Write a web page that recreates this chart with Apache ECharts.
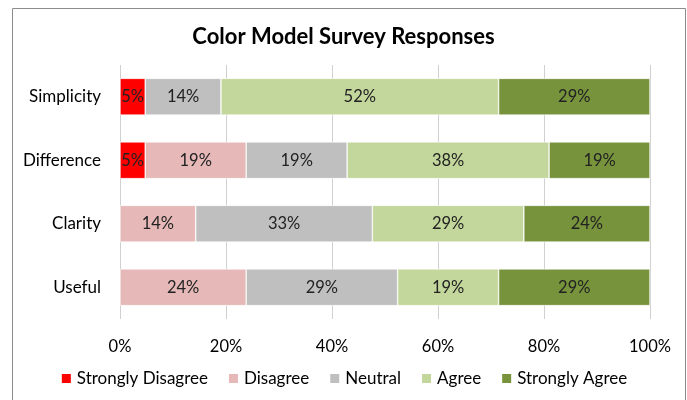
<!DOCTYPE html>
<html><head><meta charset="utf-8">
<script src="https://cdn.jsdelivr.net/npm/echarts@6/dist/echarts.min.js"></script>
<style>html,body{margin:0;padding:0;background:#fff}#c{width:687px;height:400px}</style>
</head><body><div id="c"></div>
<script>
const categories = ['Simplicity', 'Difference', 'Clarity', 'Useful'];
const seriesNames = ['Strongly Disagree', 'Disagree', 'Neutral', 'Agree', 'Strongly Agree'];
const stronglyDisagree = [4.76, 4.76, 0, 0];
const disagree = [0, 19.05, 14.29, 23.81];
const neutral = [14.29, 19.05, 33.33, 28.57];
const agree = [52.38, 38.10, 28.57, 19.05];
const stronglyAgree = [28.57, 19.05, 23.81, 28.57];
const xTicks = [0, 20, 40, 60, 80, 100];
const colors = ['#FF0000', '#E6B9B8', '#BFBFBF', '#C3D69B', '#77933C'];

const font = 'Lato, "Open Sans", sans-serif';
const values = [stronglyDisagree, disagree, neutral, agree, stronglyAgree];
const chart = echarts.init(document.getElementById('c'));
chart.setOption({
  animation: false,
  color: colors,
  title: {
    text: 'Color Model Survey Responses', left: 'center', top: 21,
    textStyle: { fontFamily: font, fontSize: 22, fontWeight: 'bold', color: '#000' }
  },
  graphic: [{ type: 'rect', shape: { x: 12.5, y: 8.5, width: 673, height: 400 },
    style: { fill: 'none', stroke: '#8c8c8c', lineWidth: 1 }, silent: true }],
  legend: {
    bottom: 8, left: 'center', itemWidth: 11, itemHeight: 11, itemGap: 19,
    icon: 'rect',
    textStyle: { fontFamily: font, fontSize: 17, color: '#000' },
    data: seriesNames
  },
  grid: { left: 120, right: 37, top: 65, bottom: 81 },
  xAxis: {
    type: 'value', min: 0, max: 100, interval: 20,
    axisLabel: { formatter: v => v + '%', fontFamily: font, fontSize: 16.5, color: '#000', margin: 19 },
    axisLine: { show: false }, axisTick: { show: false },
    splitLine: { lineStyle: { color: '#d0d0d0', width: 1 } }
  },
  yAxis: {
    type: 'category', data: categories, inverse: true,
    axisLabel: { fontFamily: font, fontSize: 17, color: '#000', margin: 19 },
    axisLine: { show: false }, axisTick: { show: false }
  },
  series: seriesNames.map((n, i) => ({
    name: n, type: 'bar', stack: 'total', barWidth: '58%',
    data: values[i].map(v => v === 0 ? null : v),
    itemStyle: { color: colors[i], borderColor: '#fff', borderWidth: 0.6 },
    label: { show: true, position: 'inside', formatter: p => Math.round(p.value) + '%',
      fontFamily: font, fontSize: 16.5, color: '#222' }
  }))
});
</script></body></html>
